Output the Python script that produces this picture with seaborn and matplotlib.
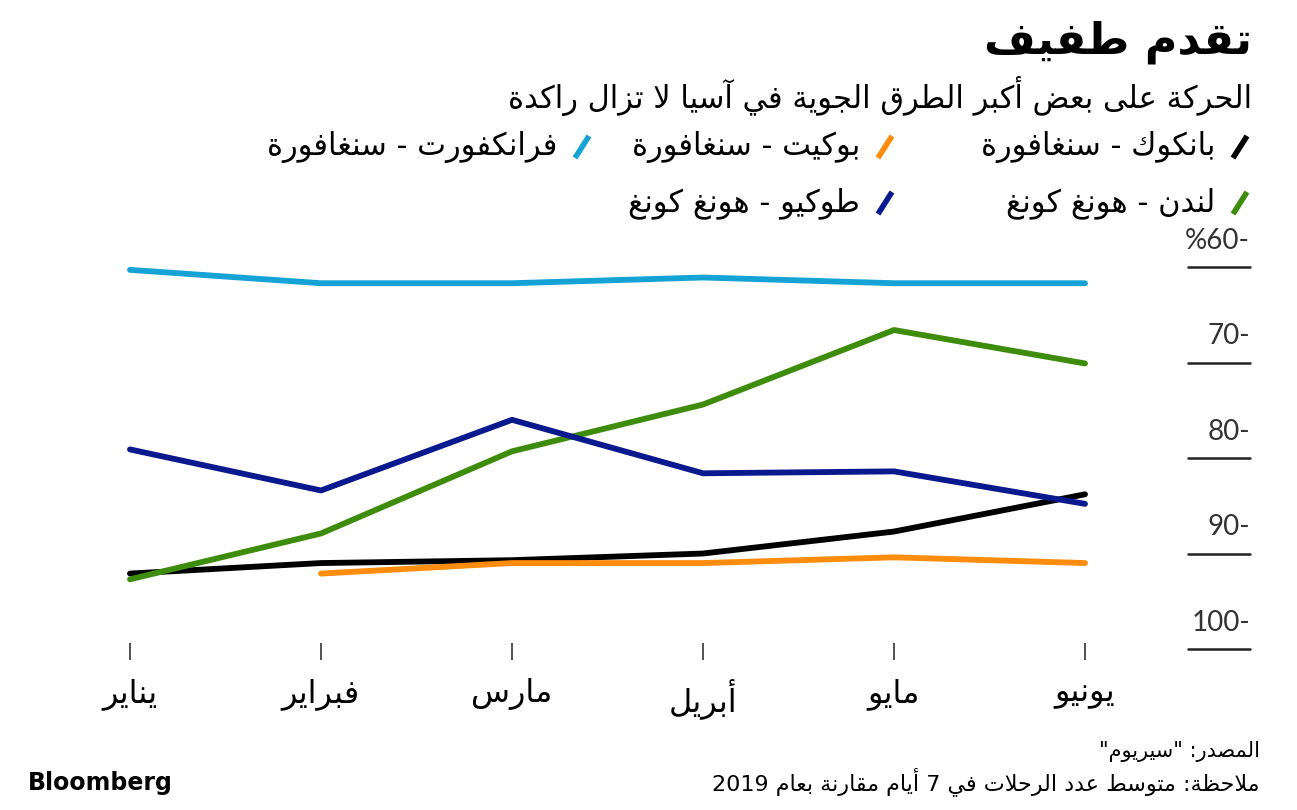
import re
import numpy as np
import pandas as pd
import seaborn as sns
import matplotlib.pyplot as plt
from matplotlib.lines import Line2D

# data (share of 2019 flights, %)
months = ["يناير", "فبراير", "مارس", "أبريل", "مايو", "يونيو"]
routes = ["بانكوك - سنغافورة", "بوكيت - سنغافورة", "فرانكفورت - سنغافورة",
          "لندن - هونغ كونغ", "طوكيو - هونغ كونغ"]
bangkok = [92.1, 91.0, 90.7, 90.0, 87.7, 83.8]
phuket = [np.nan, 92.1, 91.0, 91.0, 90.4, 91.0]
frankfurt = [60.3, 61.7, 61.7, 61.1, 61.7, 61.7]
london = [92.7, 87.9, 79.3, 74.4, 66.6, 70.1]
tokyo = [79.1, 83.4, 76.0, 81.6, 81.4, 84.8]
yticks = [60, 70, 80, 90, 100]
ytick_labels = ["%60-", "70-", "80-", "90-", "100-"]
colors = ["#000000", "#ff8c0c", "#15a3d5", "#3d8c0b", "#0a198e"]

title = "تقدم طفيف"
subtitle = "الحركة على بعض أكبر الطرق الجوية في آسيا لا تزال راكدة"
source = 'المصدر: "سيريوم"'
note = "ملاحظة: متوسط عدد الرحلات في 7 أيام مقارنة بعام 2019"

# minimal arabic shaping (matplotlib has no contextual shaping / bidi)
FORMS = {
    'ء': (0xFE80, 1), 'آ': (0xFE81, 2), 'أ': (0xFE83, 2), 'ؤ': (0xFE85, 2),
    'إ': (0xFE87, 2), 'ئ': (0xFE89, 4), 'ا': (0xFE8D, 2), 'ب': (0xFE8F, 4),
    'ة': (0xFE93, 2), 'ت': (0xFE95, 4), 'ث': (0xFE99, 4), 'ج': (0xFE9D, 4),
    'ح': (0xFEA1, 4), 'خ': (0xFEA5, 4), 'د': (0xFEA9, 2), 'ذ': (0xFEAB, 2),
    'ر': (0xFEAD, 2), 'ز': (0xFEAF, 2), 'س': (0xFEB1, 4), 'ش': (0xFEB5, 4),
    'ص': (0xFEB9, 4), 'ض': (0xFEBD, 4), 'ط': (0xFEC1, 4), 'ظ': (0xFEC5, 4),
    'ع': (0xFEC9, 4), 'غ': (0xFECD, 4), 'ف': (0xFED1, 4), 'ق': (0xFED5, 4),
    'ك': (0xFED9, 4), 'ل': (0xFEDD, 4), 'م': (0xFEE1, 4), 'ن': (0xFEE5, 4),
    'ه': (0xFEE9, 4), 'و': (0xFEED, 2), 'ى': (0xFEEF, 2), 'ي': (0xFEF1, 4),
}
LAM_ALEF = {'آ': 0xFEF5, 'أ': 0xFEF7, 'إ': 0xFEF9, 'ا': 0xFEFB}


def ar(s):
    units = []
    i = 0
    while i < len(s):
        if s[i] == 'ل' and i + 1 < len(s) and s[i + 1] in LAM_ALEF:
            units.append(('LA', s[i + 1]))
            i += 2
        else:
            units.append((s[i], None))
            i += 1

    def joins_next(u):
        return u[0] in FORMS and FORMS[u[0]][1] == 4

    def is_letter(u):
        return u[0] == 'LA' or u[0] in FORMS

    out = []
    for k, (c, a) in enumerate(units):
        p = k > 0 and joins_next(units[k - 1])
        if c == 'LA':
            out.append(chr(LAM_ALEF[a] + (1 if p else 0)))
            continue
        if c not in FORMS:
            out.append(c)
            continue
        base, nf = FORMS[c]
        if nf == 1:
            out.append(chr(base))
            continue
        nx = nf == 4 and k + 1 < len(units) and is_letter(units[k + 1])
        form = 3 if (p and nx) else 1 if p else 2 if nx else 0
        out.append(chr(base + form))
    text = ''.join(out)[::-1]
    return re.sub(r'[0-9]+', lambda m: m.group(0)[::-1], text)


df = pd.DataFrame({
    "month": list(range(6)) * 5,
    "route": np.repeat(routes, 6),
    "value": bangkok + phuket + frankfurt + london + tokyo,
}).dropna()

sns.set_style("white")
plt.rcParams['font.family'] = ['DejaVu Sans']
plt.rcParams['text.color'] = '#000000'

W, H = 1297, 810
fig = plt.figure(figsize=(W / 100, H / 100), dpi=100)
ax = fig.add_axes([100 / W, 1 - 660 / H, 1015 / W, 425 / H])

sns.lineplot(data=df, x="month", y="value", hue="route", palette=dict(zip(routes, colors)),
             estimator=None, linewidth=4.2, legend=False, ax=ax, sort=True)
for ln in ax.lines:
    ln.set_solid_capstyle('round')
    ln.set_solid_joinstyle('round')

ax.set_xlim(-0.157, 5.157)
ax.set_ylim(101.15, 56.65)
for s in ax.spines.values():
    s.set_visible(False)
ax.set_xlabel("")
ax.set_ylabel("")
ax.set_yticks([])
ax.set_xticks(range(6))
ax.set_xticklabels([ar(m) for m in months], fontsize=23, color="#000000")
ax.tick_params(axis='x', direction='in', length=12, width=1.2, color='#333333', pad=13, bottom=True)

# right-hand y labels with short rules
tr = ax.get_yaxis_transform()
for v, lab in zip(yticks, ytick_labels):
    ax.plot([1.072, 1.133], [v, v], transform=tr, color="#222222", lw=1.8, clip_on=False)
    ax.text(1.133, v - 2.75, lab, transform=tr, ha='right', va='center', fontsize=20,
            color="#333333", family=['Lato', 'DejaVu Sans'], clip_on=False)

fig.text(1252 / W, 1 - 42 / H, ar(title), ha='right', va='center', fontsize=32, fontweight='bold')
fig.text(1252 / W, 1 - 96 / H, ar(subtitle), ha='right', va='center', fontsize=22)

# legend, right to left
leg_pos = [(1240, 147), (885, 147), (582, 147), (1240, 203), (885, 203)]
for (x, y), name, c in zip(leg_pos, routes, colors):
    fig.add_artist(Line2D([(x - 7) / W, (x + 7) / W], [1 - (y + 11) / H, 1 - (y - 11) / H],
                          color=c, lw=4, solid_capstyle='butt'))
    fig.text((x - 25) / W, 1 - y / H, ar(name), ha='right', va='center', fontsize=22)

fig.text(1260 / W, 1 - 752 / H, ar(source), ha='right', va='center', fontsize=15)
fig.text(1260 / W, 1 - 782 / H, ar(note), ha='right', va='center', fontsize=16)
fig.text(28 / W, 1 - 783 / H, "Bloomberg", ha='left', va='center', fontsize=17,
         fontweight='bold', family=['Liberation Sans Narrow', 'DejaVu Sans'])

fig.savefig("out.png", dpi=100)
